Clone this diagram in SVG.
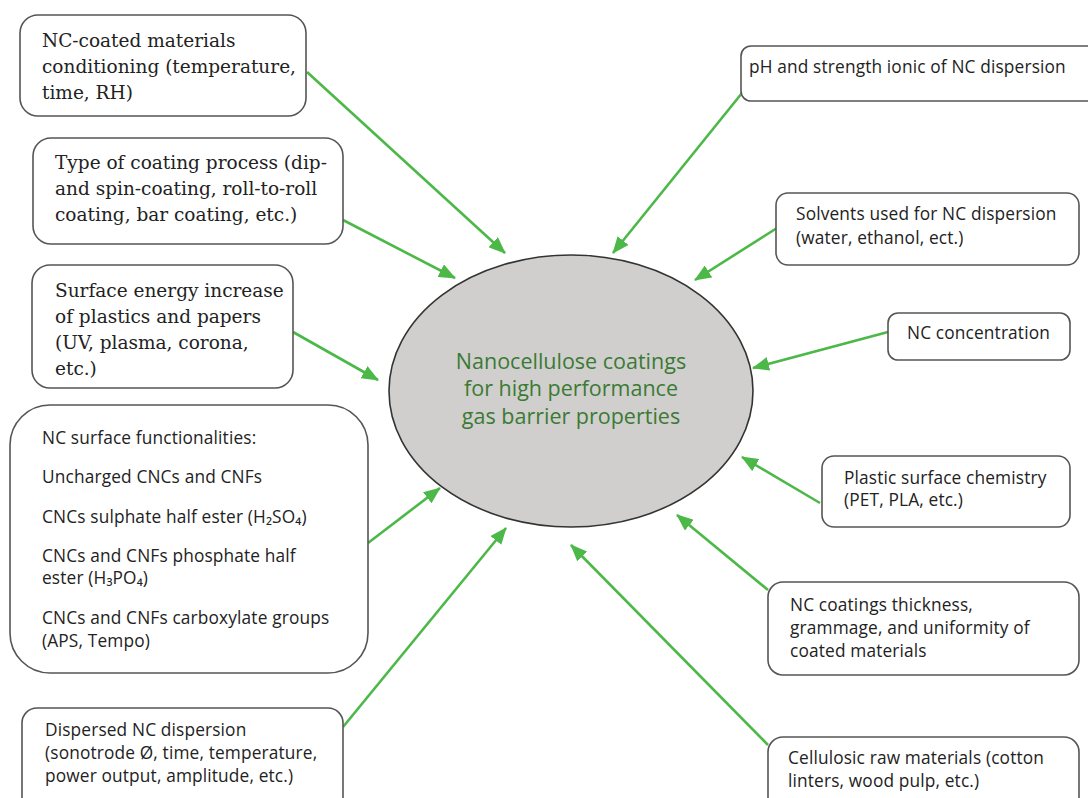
<svg xmlns="http://www.w3.org/2000/svg" width="1088" height="798" viewBox="0 0 1088 798">
<style>
.box{fill:#fff;stroke:#555;stroke-width:1.6}
.serif{font-family:"DejaVu Serif","Liberation Serif",serif;font-size:18.5px;fill:#222}
.sans{font-family:"Open Sans","DejaVu Sans",sans-serif;font-size:17.3px;letter-spacing:0.15px;fill:#222}
.center{font-family:"Open Sans","DejaVu Sans",sans-serif;font-size:21.5px;fill:#3b7a34;text-anchor:middle}
.arr{stroke:#4cb848;stroke-width:2.6;fill:none;marker-end:url(#ah)}
</style>
<defs>
<marker id="ah" markerUnits="userSpaceOnUse" markerWidth="18" markerHeight="14" viewBox="0 0 18 14" refX="16" refY="7" orient="auto">
<path d="M0,0 L17,7 L0,14 Z" fill="#4cb848"/>
</marker>
</defs>
<rect width="1088" height="798" fill="#fff"/>
<g id="connectors">
<line class="arr" x1="307" y1="72" x2="505" y2="253"/>
<line class="arr" x1="343" y1="220" x2="455" y2="278"/>
<line class="arr" x1="293" y1="332" x2="378" y2="380"/>
<line class="arr" x1="368" y1="543" x2="440" y2="488"/>
<line class="arr" x1="343" y1="727" x2="506" y2="528"/>
<line class="arr" x1="742" y1="93" x2="613" y2="253"/>
<line class="arr" x1="777" y1="228" x2="695" y2="280"/>
<line class="arr" x1="888" y1="332" x2="753" y2="368"/>
<line class="arr" x1="820" y1="503" x2="742" y2="457"/>
<line class="arr" x1="768" y1="590" x2="677" y2="515"/>
<line class="arr" x1="768" y1="745" x2="571" y2="545"/>
</g>
<g id="center">
<ellipse cx="571" cy="391" rx="182" ry="136" fill="#d0cfce" stroke="#333" stroke-width="1.6"/>
<text class="center" x="571" y="369">Nanocellulose coatings</text>
<text class="center" x="571" y="396">for high performance</text>
<text class="center" x="571" y="424">gas barrier properties</text>
</g>
<g id="n1">
<rect class="box" x="20" y="15" width="286" height="101" rx="18"/>
<text class="serif" x="42" y="47">NC-coated materials</text>
<text class="serif" x="42" y="73">conditioning (temperature,</text>
<text class="serif" x="42" y="99">time, RH)</text>
</g>
<g id="n2">
<rect class="box" x="33" y="138" width="310" height="106" rx="18"/>
<text class="serif" x="55" y="169">Type of coating process (dip-</text>
<text class="serif" x="55" y="195">and spin-coating, roll-to-roll</text>
<text class="serif" x="55" y="221">coating, bar coating, etc.)</text>
</g>
<g id="n3">
<rect class="box" x="32" y="265" width="261" height="123" rx="18"/>
<text class="serif" x="55" y="297">Surface energy increase</text>
<text class="serif" x="55" y="323">of plastics and papers</text>
<text class="serif" x="55" y="349">(UV, plasma, corona,</text>
<text class="serif" x="55" y="375">etc.)</text>
</g>
<g id="n4">
<rect class="box" x="10" y="405" width="358" height="268" rx="40"/>
<text class="sans" x="42" y="444">NC surface functionalities:</text>
<text class="sans" x="42" y="483">Uncharged CNCs and CNFs</text>
<text class="sans" x="42" y="523">CNCs sulphate half ester (H₂SO₄)</text>
<text class="sans" x="42" y="562">CNCs and CNFs phosphate half</text>
<text class="sans" x="42" y="584">ester (H₃PO₄)</text>
<text class="sans" x="42" y="624">CNCs and CNFs carboxylate groups</text>
<text class="sans" x="42" y="647">(APS, Tempo)</text>
</g>
<g id="n5">
<rect class="box" x="22" y="708" width="321" height="110" rx="15"/>
<text class="sans" x="45" y="736">Dispersed NC dispersion</text>
<text class="sans" x="45" y="759">(sonotrode Ø, time, temperature,</text>
<text class="sans" x="45" y="782">power output, amplitude, etc.)</text>
</g>
<g id="n6">
<rect class="box" x="741" y="46" width="360" height="55" rx="10"/>
<text class="sans" x="749" y="73">pH and strength ionic of NC dispersion</text>
</g>
<g id="n7">
<rect class="box" x="776" y="193" width="303" height="72" rx="12"/>
<text class="sans" x="796" y="220">Solvents used for NC dispersion</text>
<text class="sans" x="796" y="244">(water, ethanol, ect.)</text>
</g>
<g id="n8">
<rect class="box" x="888" y="313" width="182" height="47" rx="10"/>
<text class="sans" x="907" y="339">NC concentration</text>
</g>
<g id="n9">
<rect class="box" x="822" y="456" width="248" height="71" rx="12"/>
<text class="sans" x="844" y="484">Plastic surface chemistry</text>
<text class="sans" x="844" y="506">(PET, PLA, etc.)</text>
</g>
<g id="n10">
<rect class="box" x="768" y="582" width="311" height="93" rx="15"/>
<text class="sans" x="790" y="611">NC coatings thickness,</text>
<text class="sans" x="790" y="634">grammage, and uniformity of</text>
<text class="sans" x="790" y="657">coated materials</text>
</g>
<g id="n11">
<rect class="box" x="768" y="737" width="311" height="90" rx="15"/>
<text class="sans" x="788" y="764">Cellulosic raw materials (cotton</text>
<text class="sans" x="788" y="787">linters, wood pulp, etc.)</text>
</g>
</svg>
